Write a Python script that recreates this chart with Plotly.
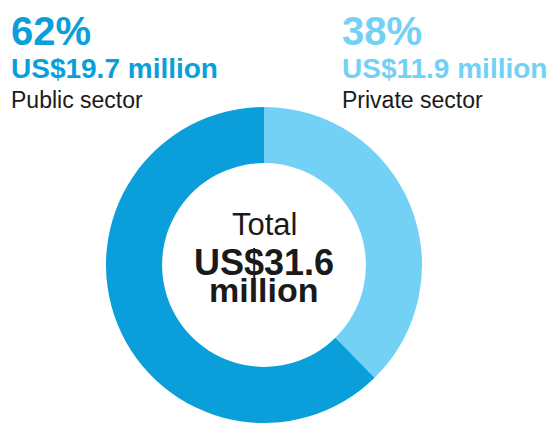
import plotly.graph_objects as go

# Funding split by sector (US$ million)
sectors = ["Private sector", "Public sector"]
amounts = [11.9, 19.7]
colors = ["#72d1f5", "#0a9fda"]
total_amount = 31.6

W, H = 556, 423
FONT = "Liberation Sans, Arial, Helvetica, sans-serif"
DARK = "#1a1a1a"


def px_x(x):
    return x / W


def px_y(y):
    return 1 - y / H


# donut centred at (264, 265) px with a 158 px outer radius
cx, cy, radius = 264, 265, 158
fig = go.Figure(
    go.Pie(
        labels=sectors,
        values=amounts,
        hole=0.645,
        sort=False,
        direction="clockwise",
        rotation=0,
        marker=dict(colors=colors, line=dict(width=0)),
        textinfo="none",
        hoverinfo="label+value+percent",
        domain=dict(x=[px_x(cx - radius - 10), px_x(cx + radius + 10)],
                    y=[max(0, px_y(cy + radius)), px_y(cy - radius)]),
    )
)

shares = {s: v / total_amount * 100 for s, v in zip(sectors, amounts)}
amt = dict(zip(sectors, amounts))
col = dict(zip(sectors, colors))

annotations = []


def add_text(text, x, baseline, size, color, bold=False, anchor="left"):
    # position the text box so the glyph baseline lands on `baseline` (px)
    top = baseline - 0.905 * size - 2
    annotations.append(dict(
        text=f"<b>{text}</b>" if bold else text,
        x=px_x(x), y=px_y(top), xref="paper", yref="paper",
        xanchor=anchor, yanchor="top", showarrow=False, borderpad=0,
        font=dict(family=FONT, size=size, color=color),
    ))


for name, x0 in [("Public sector", 10), ("Private sector", 341)]:
    add_text(f"{shares[name]:.0f}%", x0, 46, 40, col[name], bold=True)
    add_text(f"US${amt[name]:.1f} million", x0, 79, 28, col[name], bold=True)
    add_text(name, x0, 109, 23, DARK)

add_text("Total", cx, 236, 31, DARK, anchor="center")
add_text(f"US${total_amount:.1f}", cx, 276, 36, DARK, bold=True, anchor="center")
add_text("million", cx, 303, 34, DARK, bold=True, anchor="center")

fig.update_layout(
    width=W, height=H,
    margin=dict(l=0, r=0, t=0, b=0),
    paper_bgcolor="white", plot_bgcolor="white",
    showlegend=False,
    annotations=annotations,
)

fig.write_html("out.html")
